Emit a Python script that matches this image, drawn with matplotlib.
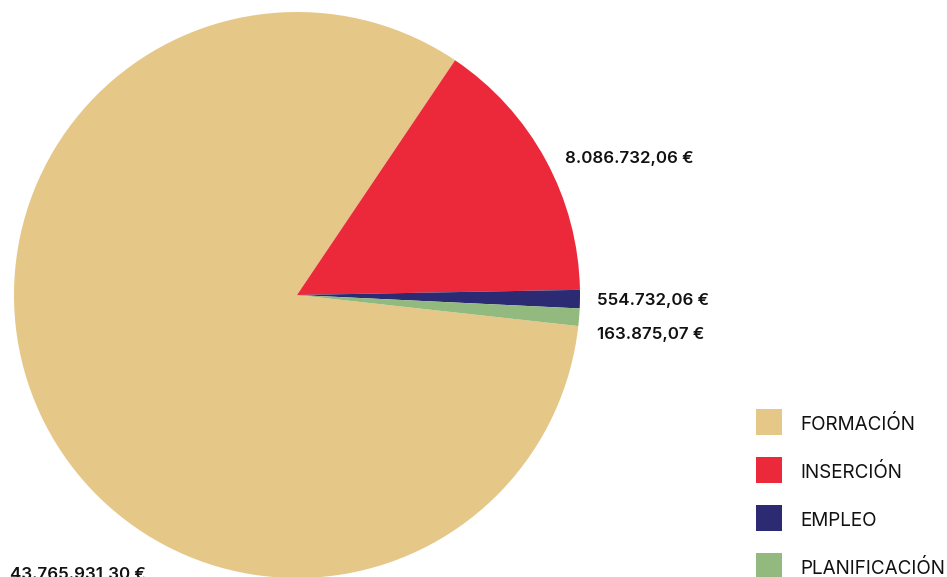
import matplotlib
matplotlib.use("Agg")
import matplotlib.pyplot as plt
from matplotlib.patches import Rectangle

categories = ["FORMACIÓN", "INSERCIÓN", "EMPLEO", "PLANIFICACIÓN"]
values = [43765931.30, 8086732.06, 554732.06, 163875.07]
colors = ["#E5C787", "#EC293A", "#2C2A72", "#93BA7E"]

def fmt_eur(v):
    s = f"{v:,.2f}"
    s = s.replace(",", "X").replace(".", ",").replace("X", ".")
    return s + " €"

total = sum(values)
# small slices are drawn with a minimum visible size, as in the reference
min_share = 0.01 * total
display_sizes = [max(v, min_share) for v in values]

W, H = 947, 577
fig = plt.figure(figsize=(W / 100, H / 100), dpi=100)
ax = fig.add_axes([0, 0, 1, 1])

cx, cy, r = 297, H - 295, 283
wedges, _ = ax.pie(display_sizes, colors=colors, startangle=-6.3, counterclock=False,
                   center=(cx, cy), radius=r, frame=True,
                   wedgeprops=dict(linewidth=0))
ax.set_xlim(0, W)
ax.set_ylim(0, H)
ax.set_aspect("equal")
ax.axis("off")

font = ["Inter", "DejaVu Sans"]
label_pos = [(10, H - 574), (565, H - 159), (597, H - 300), (597, H - 334)]
for (x, y), v in zip(label_pos, values):
    ax.text(x, y, fmt_eur(v), fontsize=12.2, fontweight="semibold", family=font,
            ha="left", va="center", color="#111111")

leg_y = [422, 470, 518, 566]
for yy, cat, col in zip(leg_y, categories, colors):
    ax.add_patch(Rectangle((756, H - yy - 13), 26, 26, facecolor=col, edgecolor="none"))
    ax.text(800, H - yy - 3, cat, fontsize=13.6, family=font, ha="left", va="center",
            color="#111111")

fig.savefig("out.png", dpi=100)
